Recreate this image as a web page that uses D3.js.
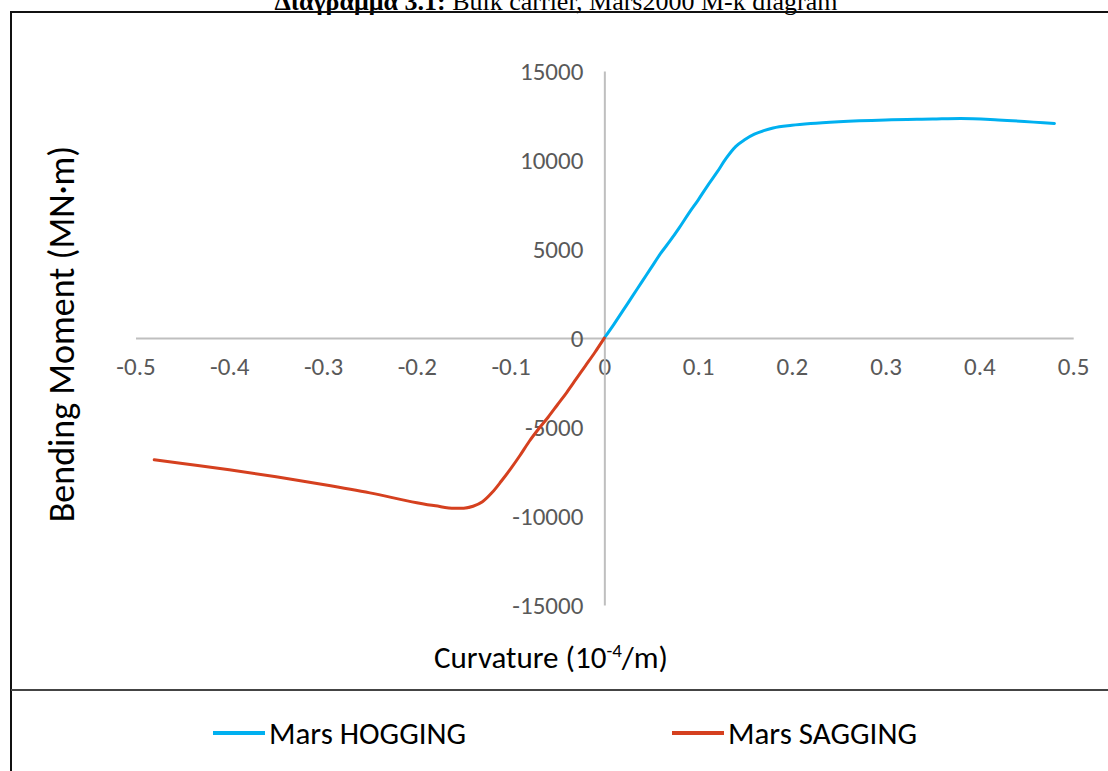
<!DOCTYPE html>
<html>
<head>
<meta charset="utf-8">
<script src="https://cdn.jsdelivr.net/npm/d3@7"></script>
<style>
    body { margin: 0; background: #fff; }
    svg { display: block; }
</style>
</head>
<body>
<div id="chart"></div>
<script>
// hogging branch (curvature >= 0)
const curvHog = [0, 0.01, 0.02, 0.03, 0.04, 0.05, 0.06, 0.07, 0.08, 0.09, 0.10, 0.11, 0.12, 0.13, 0.14,
    0.15, 0.16, 0.17, 0.18, 0.20, 0.22, 0.25, 0.30, 0.35, 0.38, 0.42, 0.48];
const momHog = [0, 750, 1550, 2350, 3150, 3950, 4750, 5450, 6200, 7000, 7750, 8550, 9300, 10100, 10750,
    11150, 11450, 11650, 11800, 11950, 12050, 12150, 12250, 12300, 12330, 12250, 12050];

// sagging branch (curvature <= 0)
const curvSag = [-0.48, -0.45, -0.40, -0.35, -0.30, -0.25, -0.20, -0.18, -0.16, -0.15, -0.14, -0.13,
    -0.12, -0.11, -0.10, -0.09, -0.08, -0.07, -0.06, -0.05, -0.04, -0.03, -0.02, -0.01, 0];
const momSag = [-6840, -7050, -7400, -7800, -8230, -8700, -9250, -9430, -9570, -9560, -9450, -9200,
    -8700, -8050, -7350, -6600, -5800, -5100, -4450, -3750, -3050, -2300, -1550, -800, 0];

const xTicks = [-0.5, -0.4, -0.3, -0.2, -0.1, 0, 0.1, 0.2, 0.3, 0.4, 0.5];
const yTicks = [-15000, -10000, -5000, 0, 5000, 10000, 15000];

const seriesNames = ["Mars HOGGING", "Mars SAGGING"];
const seriesColors = ["#00b0f0", "#d5401f"];

const width = 1108;
const height = 771;
const sansFont = "Carlito, Lato, sans-serif";

const svg = d3.select("#chart")
    .append("svg")
        .attr("width", width)
        .attr("height", height);

// title, partly cut off at the top of the page (as in the source document)
const title = svg.append("text")
    .attr("x", 556)
    .attr("y", 10)
    .attr("text-anchor", "middle")
    .style("font-family", "'Liberation Serif', 'Times New Roman', serif")
    .style("font-size", "26px")
    .attr("fill", "#000");
title.append("tspan").attr("font-weight", "bold").text("Διάγραμμα 3.1:");
title.append("tspan").text(" Bulk carrier, Mars2000 M-k diagram");

// chart frame and legend separator
svg.append("rect")
    .attr("x", 11)
    .attr("y", 12)
    .attr("width", 1120)
    .attr("height", 800)
    .attr("fill", "none")
    .attr("stroke", "#111")
    .attr("stroke-width", 2);

svg.append("line")
    .attr("x1", 11).attr("x2", width)
    .attr("y1", 690).attr("y2", 690)
    .attr("stroke", "#444")
    .attr("stroke-width", 2);

const x = d3.scaleLinear()
    .domain([-0.5, 0.5])
    .range([135.5, 1073.2]);

const y = d3.scaleLinear()
    .domain([-15000, 15000])
    .range([605, 71]);

// axes cross at the origin, no tick marks
const xAxis = svg.append("g")
    .attr("transform", `translate(0, ${y(0)})`)
    .call(d3.axisBottom(x).tickValues(xTicks).tickSize(0).tickPadding(19).tickFormat(d => String(d)));

const yAxis = svg.append("g")
    .attr("transform", `translate(${x(0)}, 0)`)
    .call(d3.axisLeft(y).tickValues(yTicks).tickSize(0).tickPadding(21).tickFormat(d => String(d)));

[xAxis, yAxis].forEach(axis => {
    axis.select(".domain")
        .attr("stroke", "#bfbfbf")
        .attr("stroke-width", 2);
    axis.selectAll("text")
        .style("font-family", sansFont)
        .style("font-size", "25px")
        .attr("fill", "#595959");
});

// lines
const line = d3.line()
    .x(d => x(d[0]))
    .y(d => y(d[1]))
    .curve(d3.curveMonotoneX);

const hogData = curvHog.map((c, i) => [c, momHog[i]]);
const sagData = curvSag.map((c, i) => [c, momSag[i]]);

[hogData, sagData].forEach((data, i) => {
    svg.append("path")
        .datum(data)
        .attr("d", line)
        .attr("fill", "none")
        .attr("stroke", seriesColors[i])
        .attr("stroke-width", 3)
        .attr("stroke-linecap", "round")
        .attr("stroke-linejoin", "round");
});

// axis titles
svg.append("text")
    .attr("transform", `translate(74, 334) rotate(-90)`)
    .attr("text-anchor", "middle")
    .style("font-family", sansFont)
    .style("font-size", "36px")
    .attr("fill", "#000")
    .text("Bending Moment (MN·m)");

const xTitle = svg.append("text")
    .attr("x", 551)
    .attr("y", 668)
    .attr("text-anchor", "middle")
    .style("font-family", sansFont)
    .style("font-size", "31px")
    .attr("fill", "#000");
xTitle.append("tspan").text("Curvature (10");
xTitle.append("tspan").attr("dy", -11).style("font-size", "19px").text("-4");
xTitle.append("tspan").attr("dy", 11).text("/m)");

// legend
const legendX = [213, 672];
const legend = svg.selectAll("g.legend-item")
    .data(seriesNames)
    .join("g")
        .attr("class", "legend-item")
        .attr("transform", (d, i) => `translate(${legendX[i]}, 733)`);

legend.append("line")
    .attr("x1", 0).attr("x2", 52)
    .attr("stroke", (d, i) => seriesColors[i])
    .attr("stroke-width", 4);

legend.append("text")
    .attr("x", 56)
    .attr("y", 11)
    .style("font-family", sansFont)
    .style("font-size", "31px")
    .attr("fill", "#000")
    .text(d => d);
</script>
</body>
</html>
